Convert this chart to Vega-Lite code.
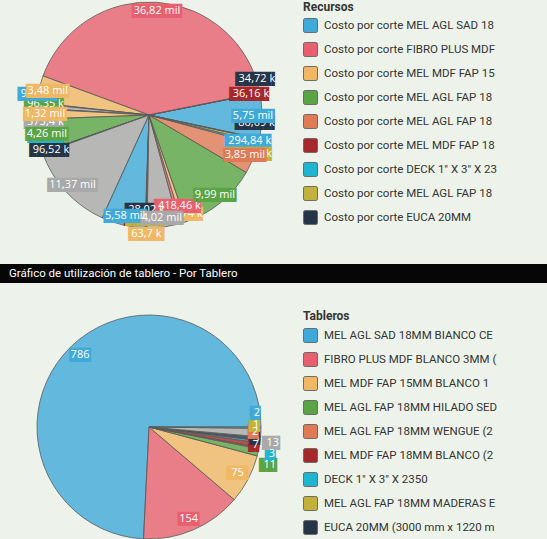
{
  "$schema": "https://vega.github.io/schema/vega-lite/v6.json",
  "background": "#edf3ea",
  "padding": 0,
  "spacing": 0,
  "config": {"view": {"stroke": null}, "font": "Roboto"},
  "resolve": {"scale": {"color": "independent", "theta": "independent"}, "legend": {"color": "independent"}},
  "vconcat": [
    {
      "spacing": 36,
      "bounds": "flush",
      "resolve": {"scale": {"color": "independent", "theta": "independent"}, "legend": {"color": "independent"}},
      "vconcat": [
        {
          "width": 298,
          "height": 226,
          "data": {"values": [
            {"recurso": "Costo por corte MEL AGL SAD 18MM BIANCO CERA", "costo": 5750, "etiqueta": "5,75 mil"},
            {"recurso": "Costo por corte recurso 10", "costo": 34.72, "etiqueta": "34,72 k"},
            {"recurso": "Costo por corte recurso 11", "costo": 36.16, "etiqueta": "36,16 k"},
            {"recurso": "Costo por corte FIBRO PLUS MDF BLANCO 3MM", "costo": 36820, "etiqueta": "36,82 mil"},
            {"recurso": "Costo por corte MEL MDF FAP 15MM BLANCO 1 CARA", "costo": 3480, "etiqueta": "3,48 mil"},
            {"recurso": "Costo por corte MEL AGL FAP 18MM HILADO SEDA", "costo": 96.35, "etiqueta": "96,35 k"},
            {"recurso": "Costo por corte recurso 12", "costo": 573.4, "etiqueta": "573,4 k"},
            {"recurso": "Costo por corte recurso 13", "costo": 94.26, "etiqueta": "94,26 k"},
            {"recurso": "Costo por corte recurso 14", "costo": 1320, "etiqueta": "1,32 mil"},
            {"recurso": "Costo por corte recurso 15", "costo": 4260, "etiqueta": "4,26 mil"},
            {"recurso": "Costo por corte DECK 1\" X 3\" X 2350", "costo": 6.21, "etiqueta": "6,21 k"},
            {"recurso": "Costo por corte EUCA 20MM", "costo": 96.52, "etiqueta": "96,52 k"},
            {"recurso": "Costo por corte recurso 16", "costo": 11370, "etiqueta": "11,37 mil"},
            {"recurso": "Costo por corte recurso 17", "costo": 5580, "etiqueta": "5,58 mil"},
            {"recurso": "Costo por corte MEL MDF FAP 18MM BLANCO", "costo": 92.98, "etiqueta": "92,98 k"},
            {"recurso": "Costo por corte recurso 18", "costo": 63.7, "etiqueta": "63,7 k"},
            {"recurso": "Costo por corte recurso 19", "costo": 28.02, "etiqueta": "28,02 k"},
            {"recurso": "Costo por corte MEL AGL FAP 18MM MADERAS EBA", "costo": 58.21, "etiqueta": "58,21 k"},
            {"recurso": "Costo por corte recurso 20", "costo": 4020, "etiqueta": "4,02 mil"},
            {"recurso": "Costo por corte recurso 21", "costo": 418.46, "etiqueta": "418,46 k"},
            {"recurso": "Costo por corte recurso 22", "costo": 581.74, "etiqueta": "581,74 k"},
            {"recurso": "Costo por corte recurso 23", "costo": 9990, "etiqueta": "9,99 mil"},
            {"recurso": "Costo por corte MEL AGL FAP 18MM WENGUE", "costo": 3850, "etiqueta": "3,85 mil"},
            {"recurso": "Costo por corte recurso 24", "costo": 294.84, "etiqueta": "294,84 k"},
            {"recurso": "Costo por corte recurso 25", "costo": 379.76, "etiqueta": "379,76 k"},
            {"recurso": "Costo por corte recurso 26", "costo": 80.09, "etiqueta": "80,09 k"}
          ]},
          "transform": [{"window": [{"op": "row_number", "as": "orden"}]}],
          "encoding": {
            "theta": {"field": "costo", "type": "quantitative", "stack": true, "scale": {"range": [1.7802, -4.503]}},
            "order": {"field": "orden", "type": "quantitative"},
            "color": {
              "field": "recurso", "type": "nominal",
              "scale": {
                "domain": [
                  "Costo por corte MEL AGL SAD 18MM BIANCO CERA", "Costo por corte recurso 10", "Costo por corte recurso 11",
                  "Costo por corte FIBRO PLUS MDF BLANCO 3MM", "Costo por corte MEL MDF FAP 15MM BLANCO 1 CARA",
                  "Costo por corte MEL AGL FAP 18MM HILADO SEDA", "Costo por corte recurso 12", "Costo por corte recurso 13",
                  "Costo por corte recurso 14", "Costo por corte recurso 15", "Costo por corte DECK 1\" X 3\" X 2350",
                  "Costo por corte EUCA 20MM", "Costo por corte recurso 16", "Costo por corte recurso 17",
                  "Costo por corte MEL MDF FAP 18MM BLANCO", "Costo por corte recurso 18", "Costo por corte recurso 19",
                  "Costo por corte MEL AGL FAP 18MM MADERAS EBA", "Costo por corte recurso 20", "Costo por corte recurso 21",
                  "Costo por corte recurso 22", "Costo por corte recurso 23", "Costo por corte MEL AGL FAP 18MM WENGUE",
                  "Costo por corte recurso 24", "Costo por corte recurso 25", "Costo por corte recurso 26"
                ],
                "range": [
                  "#3fa9d9", "#253547", "#a5282b",
                  "#e8606f", "#f0b865",
                  "#5aa445", "#a9a9a9", "#3fa9d9",
                  "#f0b865", "#5aa445", "#1fb5d0",
                  "#253547", "#a9a9a9", "#3fa9d9",
                  "#a5282b", "#f0b865", "#253547",
                  "#c2b239", "#a9a9a9", "#e8606f",
                  "#f0b865", "#5aa445", "#e07a55",
                  "#3fa9d9", "#c2b239", "#253547"
                ]
              },
              "legend": {
                "orient": "none", "legendX": 303, "legendY": 0,
                "title": "Recursos", "titleFont": "Roboto", "titleFontSize": 12, "titleFontWeight": "bold", "titleColor": "#333333", "titlePadding": 4, "titleAnchor": "start",
                "labelFont": "Roboto", "labelFontSize": 11.5, "labelColor": "#333333", "labelLimit": 177, "labelOffset": 6,
                "symbolType": "M-1,-0.75Q-1,-1,-0.75,-1L0.75,-1Q1,-1,1,-0.75L1,0.75Q1,1,0.75,1L-0.75,1Q-1,1,-1,0.75Z",
                "symbolSize": 196, "symbolStrokeColor": "#6b6b6b", "symbolStrokeWidth": 1, "symbolOpacity": 1,
                "rowPadding": 5, "padding": 0,
                "values": [
                  "Costo por corte MEL AGL SAD 18MM BIANCO CERA", "Costo por corte FIBRO PLUS MDF BLANCO 3MM",
                  "Costo por corte MEL MDF FAP 15MM BLANCO 1 CARA", "Costo por corte MEL AGL FAP 18MM HILADO SEDA",
                  "Costo por corte MEL AGL FAP 18MM WENGUE", "Costo por corte MEL MDF FAP 18MM BLANCO",
                  "Costo por corte DECK 1\" X 3\" X 2350", "Costo por corte MEL AGL FAP 18MM MADERAS EBA",
                  "Costo por corte EUCA 20MM"
                ],
                "encode": {"labels": {"update": {"ellipsis": {"value": " "}}}}
              }
            }
          },
          "layer": [
            {"mark": {"type": "arc", "outerRadius": 113, "stroke": "#5b5b5b", "strokeWidth": 0.8, "fillOpacity": 0.8}},
            {
              "mark": {"type": "text", "radius": 104, "font": "DejaVu Sans Mono", "fontSize": 12, "align": "center", "baseline": "middle"},
              "encoding": {"text": {
                "condition": [
                  {"test": "datum.costo >= 1000 || datum.orden % 3 != 0", "value": ""},
                  {"test": "length(datum.etiqueta) == 8", "value": "██████▌"},
                  {"test": "length(datum.etiqueta) == 7", "value": "█████▌"}
                ],
                "value": "█████"
              }}
            },
            {
              "mark": {"type": "text", "radius": 104, "font": "Open Sans", "fontSize": 11, "align": "center", "baseline": "middle"},
              "encoding": {"text": {"condition": {"test": "datum.costo < 1000 && datum.orden % 3 == 0", "field": "etiqueta"}, "value": ""}, "color": {"value": "#ffffff"}}
            },
            {
              "mark": {"type": "text", "radius": 104, "dy": 15, "font": "DejaVu Sans Mono", "fontSize": 12, "align": "center", "baseline": "middle"},
              "encoding": {"text": {
                "condition": [
                  {"test": "datum.costo >= 1000 || datum.orden % 3 != 1", "value": ""},
                  {"test": "length(datum.etiqueta) == 8", "value": "██████▌"},
                  {"test": "length(datum.etiqueta) == 7", "value": "█████▌"}
                ],
                "value": "█████"
              }}
            },
            {
              "mark": {"type": "text", "radius": 104, "dy": 15, "font": "Open Sans", "fontSize": 11, "align": "center", "baseline": "middle"},
              "encoding": {"text": {"condition": {"test": "datum.costo < 1000 && datum.orden % 3 == 1", "field": "etiqueta"}, "value": ""}, "color": {"value": "#ffffff"}}
            },
            {
              "mark": {"type": "text", "radius": 110, "dy": -15, "clip": true, "font": "DejaVu Sans Mono", "fontSize": 12, "align": "center", "baseline": "middle"},
              "encoding": {"text": {
                "condition": [
                  {"test": "datum.costo >= 1000 || datum.orden % 3 != 2", "value": ""},
                  {"test": "length(datum.etiqueta) == 8", "value": "██████▌"},
                  {"test": "length(datum.etiqueta) == 7", "value": "█████▌"}
                ],
                "value": "█████"
              }}
            },
            {
              "mark": {"type": "text", "radius": 110, "dy": -15, "clip": true, "font": "Open Sans", "fontSize": 11, "align": "center", "baseline": "middle"},
              "encoding": {"text": {"condition": {"test": "datum.costo < 1000 && datum.orden % 3 == 2", "field": "etiqueta"}, "value": ""}, "color": {"value": "#ffffff"}}
            },
            {
              "mark": {"type": "text", "radius": 104, "font": "DejaVu Sans Mono", "fontSize": 12, "align": "center", "baseline": "middle"},
              "encoding": {"text": {
                "condition": [
                  {"test": "datum.costo < 1000", "value": ""},
                  {"test": "length(datum.etiqueta) >= 9", "value": "███████"}
                ],
                "value": "██████"
              }}
            },
            {
              "mark": {"type": "text", "radius": 104, "font": "Open Sans", "fontSize": 11, "align": "center", "baseline": "middle"},
              "encoding": {"text": {"condition": {"test": "datum.costo >= 1000", "field": "etiqueta"}, "value": ""}, "color": {"value": "#ffffff"}}
            }
          ]
        },
        {
          "width": 547,
          "height": 19,
          "view": {"fill": "#060606", "stroke": null},
          "data": {"values": [{"titulo": "Gráfico de utilización de tablero - Por Tablero"}]},
          "mark": {"type": "text", "align": "left", "baseline": "middle", "color": "#ffffff", "font": "Roboto", "fontSize": 11.5},
          "encoding": {"text": {"field": "titulo"}, "x": {"value": 9}, "y": {"value": 10}}
        }
      ]
    },
    {
      "width": 298,
      "height": 288,
      "data": {"values": [
        {"tablero": "MEL AGL SAD 18MM BIANCO CERA (2750 x 1830)", "cantidad": 786, "etiqueta": "786"},
        {"tablero": "FIBRO PLUS MDF BLANCO 3MM (2600 x 1830)", "cantidad": 154, "etiqueta": "154"},
        {"tablero": "MEL MDF FAP 15MM BLANCO 1 CARA (2750 x 1830)", "cantidad": 75, "etiqueta": "75"},
        {"tablero": "MEL AGL FAP 18MM HILADO SEDA (2750 x 1830)", "cantidad": 11, "etiqueta": "11"},
        {"tablero": "MEL AGL FAP 18MM WENGUE (2750 x 1830)", "cantidad": 2, "etiqueta": "2"},
        {"tablero": "MEL MDF FAP 18MM BLANCO (2750 x 1830)", "cantidad": 7, "etiqueta": "7"},
        {"tablero": "DECK 1\" X 3\" X 2350", "cantidad": 3, "etiqueta": "3"},
        {"tablero": "MEL AGL FAP 18MM MADERAS EBANO (2750 x 1830)", "cantidad": 1, "etiqueta": "1"},
        {"tablero": "EUCA 20MM (3000 mm x 1220 mm)", "cantidad": 5, "etiqueta": "5"},
        {"tablero": "Tablero 10", "cantidad": 13, "etiqueta": "13"},
        {"tablero": "Tablero 11", "cantidad": 2, "etiqueta": "2"}
      ]},
      "transform": [{"window": [{"op": "row_number", "as": "orden"}]}],
      "encoding": {
        "theta": {"field": "cantidad", "type": "quantitative", "stack": true, "scale": {"range": [1.5708, -4.7124]}},
        "order": {"field": "orden", "type": "quantitative"},
        "color": {
          "field": "tablero", "type": "nominal",
          "scale": {
            "domain": [
              "MEL AGL SAD 18MM BIANCO CERA (2750 x 1830)", "FIBRO PLUS MDF BLANCO 3MM (2600 x 1830)",
              "MEL MDF FAP 15MM BLANCO 1 CARA (2750 x 1830)", "MEL AGL FAP 18MM HILADO SEDA (2750 x 1830)",
              "MEL AGL FAP 18MM WENGUE (2750 x 1830)", "MEL MDF FAP 18MM BLANCO (2750 x 1830)",
              "DECK 1\" X 3\" X 2350", "MEL AGL FAP 18MM MADERAS EBANO (2750 x 1830)",
              "EUCA 20MM (3000 mm x 1220 mm)", "Tablero 10", "Tablero 11"
            ],
            "range": ["#3fa9d9", "#e8606f", "#f0b865", "#5aa445", "#e07a55", "#a5282b", "#1fb5d0", "#c2b239", "#253547", "#a9a9a9", "#3fa9d9"]
          },
          "legend": {
            "orient": "none", "legendX": 303, "legendY": 28,
            "title": "Tableros", "titleFont": "Roboto", "titleFontSize": 12, "titleFontWeight": "bold", "titleColor": "#333333", "titlePadding": 5, "titleAnchor": "start",
            "labelFont": "Roboto", "labelFontSize": 11.5, "labelColor": "#333333", "labelLimit": 177, "labelOffset": 6,
            "symbolType": "M-1,-0.75Q-1,-1,-0.75,-1L0.75,-1Q1,-1,1,-0.75L1,0.75Q1,1,0.75,1L-0.75,1Q-1,1,-1,0.75Z",
            "symbolSize": 196, "symbolStrokeColor": "#6b6b6b", "symbolStrokeWidth": 1, "symbolOpacity": 1,
            "rowPadding": 5, "padding": 0,
            "values": [
              "MEL AGL SAD 18MM BIANCO CERA (2750 x 1830)", "FIBRO PLUS MDF BLANCO 3MM (2600 x 1830)",
              "MEL MDF FAP 15MM BLANCO 1 CARA (2750 x 1830)", "MEL AGL FAP 18MM HILADO SEDA (2750 x 1830)",
              "MEL AGL FAP 18MM WENGUE (2750 x 1830)", "MEL MDF FAP 18MM BLANCO (2750 x 1830)",
              "DECK 1\" X 3\" X 2350", "MEL AGL FAP 18MM MADERAS EBANO (2750 x 1830)",
              "EUCA 20MM (3000 mm x 1220 mm)"
            ],
            "encode": {"labels": {"update": {"ellipsis": {"value": " "}}}}
          }
        }
      },
      "layer": [
        {"mark": {"type": "arc", "outerRadius": 112, "stroke": "#5b5b5b", "strokeWidth": 0.8, "fillOpacity": 0.8}},
        {
          "mark": {"type": "text", "radius": 108, "font": "DejaVu Sans Mono", "fontSize": 12, "align": "center", "baseline": "middle"},
          "encoding": {"text": {
            "condition": [
              {"test": "datum.cantidad >= 50 || datum.orden % 3 != 0", "value": ""},
              {"test": "length(datum.etiqueta) == 2", "value": "██▌"}
            ],
            "value": "█▌"
          }}
        },
        {
          "mark": {"type": "text", "radius": 108, "font": "Open Sans", "fontSize": 11, "align": "center", "baseline": "middle"},
          "encoding": {"text": {"condition": {"test": "datum.cantidad < 50 && datum.orden % 3 == 0", "field": "etiqueta"}, "value": ""}, "color": {"value": "#ffffff"}}
        },
        {
          "mark": {"type": "text", "radius": 124, "dy": 10, "font": "DejaVu Sans Mono", "fontSize": 12, "align": "center", "baseline": "middle"},
          "encoding": {"text": {
            "condition": [
              {"test": "datum.cantidad >= 50 || datum.orden % 3 != 1", "value": ""},
              {"test": "length(datum.etiqueta) == 2", "value": "██▌"}
            ],
            "value": "█▌"
          }}
        },
        {
          "mark": {"type": "text", "radius": 124, "dy": 10, "font": "Open Sans", "fontSize": 11, "align": "center", "baseline": "middle"},
          "encoding": {"text": {"condition": {"test": "datum.cantidad < 50 && datum.orden % 3 == 1", "field": "etiqueta"}, "value": ""}, "color": {"value": "#ffffff"}}
        },
        {
          "mark": {"type": "text", "radius": 108, "dy": -15, "font": "DejaVu Sans Mono", "fontSize": 12, "align": "center", "baseline": "middle"},
          "encoding": {"text": {
            "condition": [
              {"test": "datum.cantidad >= 50 || datum.orden % 3 != 2", "value": ""},
              {"test": "length(datum.etiqueta) == 2", "value": "██▌"}
            ],
            "value": "█▌"
          }}
        },
        {
          "mark": {"type": "text", "radius": 108, "dy": -15, "font": "Open Sans", "fontSize": 11, "align": "center", "baseline": "middle"},
          "encoding": {"text": {"condition": {"test": "datum.cantidad < 50 && datum.orden % 3 == 2", "field": "etiqueta"}, "value": ""}, "color": {"value": "#ffffff"}}
        },
        {
          "mark": {"type": "text", "radius": 100, "font": "DejaVu Sans Mono", "fontSize": 12, "align": "center", "baseline": "middle"},
          "encoding": {"text": {"condition": {"test": "datum.cantidad < 50", "value": ""}, "value": "███"}}
        },
        {
          "mark": {"type": "text", "radius": 100, "font": "Open Sans", "fontSize": 11, "align": "center", "baseline": "middle"},
          "encoding": {"text": {"condition": {"test": "datum.cantidad >= 50", "field": "etiqueta"}, "value": ""}, "color": {"value": "#ffffff"}}
        }
      ]
    }
  ]
}
